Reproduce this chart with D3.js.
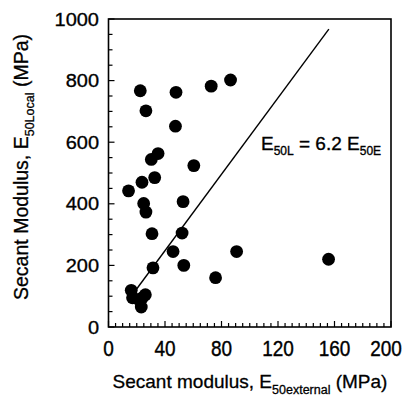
<!DOCTYPE html>
<html>
<head>
<meta charset="utf-8">
<script src="https://cdn.jsdelivr.net/npm/d3@7/dist/d3.min.js"></script>
<style>
  html, body { margin: 0; padding: 0; background: #fff; }
  svg { display: block; }
  text { font-family: "Liberation Sans", Arial, sans-serif; fill: #000; }
</style>
</head>
<body>
<svg id="chart" width="405" height="402"></svg>
<script>
// Data (E50external, E50local in MPa)
const eExternal = [22.5, 47.8, 72.7, 86.4, 26.5, 47.4, 35.1, 30.3, 60.4, 23.7, 32.7, 14.2,
                   24.9, 26.5, 52.8, 30.8, 52.1, 45.7, 31.5, 53.3, 90.7, 75.8, 155.8,
                   16.1, 17.0, 26.1, 23.2, 21.3, 24.0];
const eLocal    = [767, 762, 782, 802, 702, 652, 563, 544, 524, 470, 485, 442,
                   401, 373, 407, 303, 305, 245, 192, 200, 245, 160, 220,
                   119, 95, 105, 65, 89, 95];
const fitSlope = 6.2;
const fitRange = [19, 156];
const xTicks = [0, 40, 80, 120, 160, 200];
const yTicks = [0, 200, 400, 600, 800, 1000];

const svg = d3.select("#chart");
const L = 108.5, R = 391, T = 19, B = 327;
const x = d3.scaleLinear().domain([0, 200]).range([L, R]);
const y = d3.scaleLinear().domain([0, 1000]).range([B, T]);

const xMinor = d3.range(0, 201, 5);
const yMinor = d3.range(0, 1001, 50);

const g = svg.append("g");

// frame
g.append("rect").attr("x", L).attr("y", T).attr("width", R - L).attr("height", B - T)
  .attr("fill", "none").attr("stroke", "#000").attr("stroke-width", 1.6);

// x ticks (inward)
g.selectAll(".xt").data(xMinor).enter().append("line")
  .attr("x1", d => x(d)).attr("x2", d => x(d))
  .attr("y1", B).attr("y2", d => B - (d % 40 === 0 ? 6 : 4))
  .attr("stroke", "#000").attr("stroke-width", 1.2);
// y ticks (inward)
g.selectAll(".yt").data(yMinor).enter().append("line")
  .attr("y1", d => y(d)).attr("y2", d => y(d))
  .attr("x1", L).attr("x2", d => L + (d % 200 === 0 ? 6 : 4))
  .attr("stroke", "#000").attr("stroke-width", 1.2);

// tick labels (last one kept inside the window edge)
g.selectAll(".xl").data(xTicks).enter().append("text")
  .attr("transform", d => `translate(${Math.min(x(d), 386)},356) scale(1,1.15)`)
  .attr("text-anchor", "middle").attr("font-size", 19)
  .attr("stroke", "#000").attr("stroke-width", 0.35)
  .text(d => d);
g.selectAll(".yl").data(yTicks).enter().append("text")
  .attr("transform", d => `translate(99,${y(d) + 6.5}) scale(1,0.92)`)
  .attr("text-anchor", "end").attr("font-size", 20)
  .attr("stroke", "#000").attr("stroke-width", 0.35)
  .text(d => d);

// fit line
g.append("line")
  .attr("x1", x(fitRange[0])).attr("y1", y(fitSlope * fitRange[0]))
  .attr("x2", x(fitRange[1])).attr("y2", y(fitSlope * fitRange[1]))
  .attr("stroke", "#000").attr("stroke-width", 1.4);

// points
const pts = eExternal.map((v, i) => [v, eLocal[i]]);
g.selectAll(".pt").data(pts).enter().append("circle")
  .attr("cx", d => x(d[0])).attr("cy", d => y(d[1])).attr("r", 6.4)
  .attr("fill", "#000");

// annotation
const ann = g.append("text").attr("x", 261).attr("y", 149.5).attr("font-size", 19)
  .attr("stroke", "#000").attr("stroke-width", 0.35);
ann.append("tspan").text("E");
ann.append("tspan").attr("font-size", 12).attr("dy", 5).text("50L");
ann.append("tspan").attr("dy", -5).text(" = 6.2 E");
ann.append("tspan").attr("font-size", 12).attr("dy", 5).text("50E");

// x title
const xt = g.append("text").attr("x", 250).attr("y", 388).attr("text-anchor", "middle")
  .attr("font-size", 19).attr("stroke", "#000").attr("stroke-width", 0.3);
xt.append("tspan").text("Secant modulus, E");
xt.append("tspan").attr("font-size", 12.5).attr("dy", 6).text("50external");
xt.append("tspan").attr("dy", -6).text(" (MPa)");

// y title
const yt = g.append("text").attr("transform", "translate(28,167) rotate(-90)")
  .attr("text-anchor", "middle").attr("font-size", 19.5)
  .attr("stroke", "#000").attr("stroke-width", 0.3);
yt.append("tspan").text("Secant Modulus, E");
yt.append("tspan").attr("font-size", 12.5).attr("dy", 6).text("50Local");
yt.append("tspan").attr("dy", -6).text(" (MPa)");
</script>
</body>
</html>
